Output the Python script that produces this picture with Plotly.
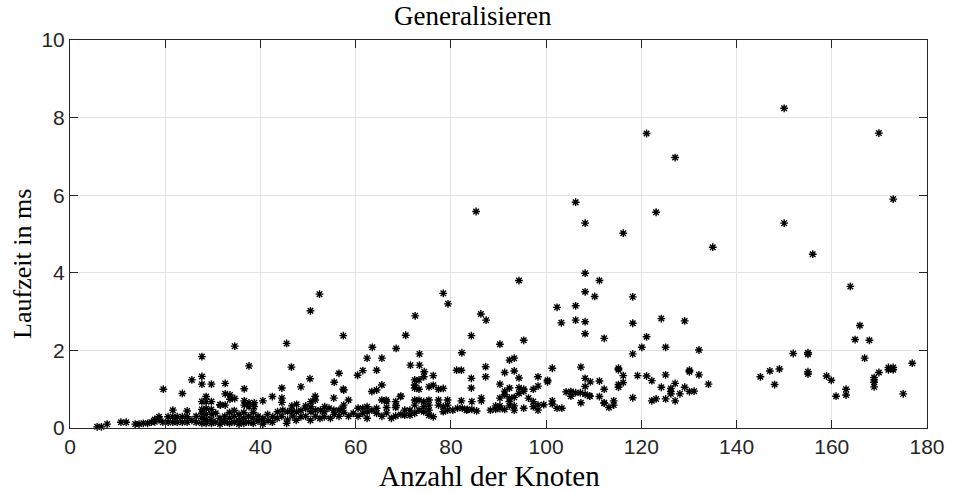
import plotly.graph_objects as go

title_text = "Generalisieren"
x_label = "Anzahl der Knoten"
y_label = "Laufzeit in ms"
x_ticks = [0, 20, 40, 60, 80, 100, 120, 140, 160, 180]
y_ticks = [0, 2, 4, 6, 8, 10]

# Region 5-30 nodes
x_a = [5.7, 6.6, 7.8, 10.7, 11.8, 13.7, 14.5, 15.4, 16.3, 17.1, 17.8, 17.8,
       18.7, 18.7, 19.6, 19.5, 20.6, 20.6, 21.6, 21.6, 21.6, 22.5, 22.5, 23.6, 23.6, 23.6,
       24.6, 24.6, 24.6, 25.6, 25.6, 26.5, 26.5, 27.7, 27.7, 27.7, 29.7, 28.6,
       27.7, 27.7, 27.7, 27.7, 27.7, 28.6, 28.6, 28.6, 28.6, 28.6, 29.7, 29.7, 29.7, 29.7, 29.7]
y_a = [0.03, 0.03, 0.10, 0.15, 0.15, 0.10, 0.10, 0.12, 0.12, 0.15, 0.16, 0.22,
       0.29, 0.21, 1.00, 0.15, 0.29, 0.15, 0.46, 0.29, 0.15, 0.29, 0.15, 0.89, 0.29, 0.15,
       0.44, 0.29, 0.15, 1.24, 0.20, 0.30, 0.15, 1.84, 1.33, 1.13, 1.13, 0.81,
       0.68, 0.48, 0.38, 0.25, 0.12, 0.68, 0.50, 0.35, 0.22, 0.12, 0.68, 0.48, 0.35, 0.22, 0.12]

# Region 30-57 nodes
x_b = [30.6, 31.5, 31.5, 32.2, 32.6, 32.6, 32.6, 33.6, 33.6, 34.6, 34.6, 31.6, 36.6, 37.6,
       36.6, 36.6, 37.6, 37.6, 38.7, 38.7, 40.5,
       30.5, 31.5, 32.5, 32.5, 33.5, 33.5, 33.5, 34.5, 34.5, 34.5, 35.5, 35.5, 35.5, 36.5, 36.5,
       36.5, 37.5, 37.5, 38.5, 38.5, 38.5, 39.5, 39.5, 40.5, 40.5,
       41.6, 42.6, 43.6, 44.7, 45.7, 45.7, 46.8, 47.6, 48.5, 49.5, 50.6, 50.6, 51.6, 52.6,
       53.4, 53.4, 54.4, 54.7, 55.4, 56.5, 57.2,
       40.5, 41.5, 42.5, 43.5, 44.5, 45.5, 46.5, 47.5, 48.5, 49.5, 50.5, 51.5, 52.5, 53.5,
       55.5, 56.5, 57.5]
y_b = [0.38, 0.60, 0.25, 0.20, 1.15, 0.88, 0.59, 0.85, 0.74, 0.76, 2.11, 0.59, 1.01, 1.60,
       0.70, 0.59, 0.65, 0.55, 0.65, 0.55, 0.70,
       0.15, 0.10, 0.30, 0.15, 0.40, 0.25, 0.12, 0.45, 0.30, 0.15, 0.35, 0.20, 0.10, 0.40, 0.25,
       0.12, 0.30, 0.15, 0.40, 0.25, 0.12, 0.30, 0.18, 0.25, 0.15,
       0.19, 0.29, 0.42, 0.46, 0.42, 0.21, 0.31, 0.42, 0.29, 0.51, 0.55, 0.42, 0.46, 0.46,
       0.42, 0.29, 0.51, 0.25, 0.46, 0.46, 0.51,
       0.10, 0.35, 0.15, 0.25, 0.30, 0.12, 0.45, 0.20, 0.45, 0.30, 0.20, 0.30, 0.25, 0.55,
       0.35, 0.30, 0.40]

# Region 40-72 nodes (upper and middle)
x_c = [57.5, 58.5, 57.5, 58.5, 59.5, 60.5, 61.5, 61.5, 62.4, 62.4, 63.4, 64.4, 64.4, 64.4,
       63.4, 65.5, 65.5, 66.5, 66.5, 66.5, 68.4, 68.4, 68.4, 69.5, 70.3, 71.4, 70.3, 71.4,
       60.4, 61.5, 62.4, 63.5, 65.5, 64.4, 68.5, 70.5, 57.4, 56.5, 55.5, 57.4, 55.4, 51.5,
       51.5, 50.6, 50.4, 48.5, 44.5, 42.5, 44.5, 44.5, 46.6, 47.6, 49.5, 45.5, 46.5, 50.5,
       52.4, 66.4, 68.5, 69.4, 60.5, 62.4, 65.5, 67.5, 69.5]
y_c = [0.98, 0.72, 0.59, 0.30, 0.38, 0.51, 0.51, 0.38, 0.55, 0.42, 0.46, 0.38, 0.51, 0.98,
       0.94, 1.11, 0.72, 0.68, 0.53, 0.39, 0.68, 0.53, 0.31, 0.82, 0.46, 0.46, 0.33, 0.33,
       1.36, 1.48, 1.80, 2.08, 1.80, 1.49, 2.05, 2.39, 2.38, 1.41, 1.18, 1.00, 0.77, 0.82,
       0.72, 0.68, 1.27, 1.06, 1.03, 0.81, 0.77, 0.66, 0.57, 0.61, 0.57, 2.18, 1.57, 3.02,
       3.45, 0.72, 0.58, 0.81, 0.30, 0.25, 0.30, 0.25, 0.35]

# Region 72-85 nodes
x_d = [72.5, 73.4, 71.5, 73.4, 74.4, 74.3, 72.4, 73.3, 72.4, 72.4, 73.3, 76.3, 75.4, 76.3,
       77.4, 78.4, 81.2, 82.2, 82.3, 82.2, 84.3, 84.3, 84.4, 84.4, 78.4, 79.4, 84.3,
       72.4, 73.3, 72.4, 74.3, 74.3, 74.3, 75.4, 75.4, 75.4, 75.4, 76.3, 77.4, 77.4, 78.4,
       78.4, 79.3, 79.3, 79.3, 80.4, 81.4, 82.4, 83.3, 83.5, 85.4, 73.3, 72.4]
y_d = [2.89, 1.91, 1.62, 1.62, 1.45, 1.32, 1.24, 1.24, 1.11, 1.03, 1.00, 1.35, 1.06, 1.10,
       1.00, 1.02, 1.49, 1.49, 1.94, 0.70, 1.28, 1.03, 0.68, 0.48, 3.47, 3.20, 2.38,
       0.72, 0.72, 0.59, 0.68, 0.55, 0.42, 0.72, 0.59, 0.46, 0.33, 0.29, 0.72, 0.59, 0.55,
       0.42, 0.72, 0.59, 0.46, 0.46, 0.51, 0.51, 0.46, 0.48, 0.44, 0.46, 0.38]

# Region 85-103 nodes
x_e = [85.3, 86.3, 87.4, 90.3, 95.3, 94.3, 87.3, 87.3, 92.3, 93.3, 91.3, 93.3, 94.3, 90.3,
       92.3, 94.3, 95.3, 94.3, 95.3, 98.3, 98.3, 97.3, 100.3, 100.3, 101.3, 86.4, 86.4, 88.3,
       89.4, 89.4, 90.3, 90.3, 91.3, 90.3, 91.3, 91.3, 92.3, 92.3, 92.3, 93.3, 93.3, 93.3,
       96.3, 97.3, 97.3, 98.3, 98.3, 95.3, 101.3, 101.3, 102.3, 103.3, 99.5]
y_e = [5.58, 2.94, 2.78, 2.16, 2.26, 3.80, 1.58, 1.32, 1.75, 1.80, 1.43, 1.47, 1.29, 1.13,
       1.03, 1.04, 1.00, 0.89, 0.95, 1.32, 1.08, 1.00, 1.23, 1.19, 1.54, 0.77, 0.70, 0.46,
       0.57, 0.48, 0.57, 0.50, 0.48, 0.77, 0.86, 0.95, 0.77, 0.68, 0.57, 0.79, 0.57, 0.46,
       0.77, 0.68, 0.55, 0.59, 0.46, 0.51, 0.70, 0.62, 0.51, 0.51, 0.60]

# Region 102-115 nodes
x_f = [106.2, 108.2, 108.2, 111.2, 108.2, 110.2, 102.3, 106.2, 103.2, 106.2, 108.2, 108.2,
       112.2, 107.3, 108.2, 109.3, 111.2, 108.2, 112.2, 104.2, 105.2, 105.2, 106.2, 107.2,
       108.2, 109.2, 107.3, 111.2, 112.2, 112.2, 113.2, 114.2, 114.2, 109.1]
y_f = [5.82, 5.28, 3.99, 3.80, 3.51, 3.39, 3.11, 3.15, 2.71, 2.78, 2.74, 2.43,
       2.31, 1.57, 1.28, 1.19, 1.21, 1.07, 1.00, 0.93, 0.94, 0.82, 0.91, 0.91,
       0.87, 0.82, 0.65, 0.81, 0.65, 0.64, 0.53, 0.70, 0.59, 0.83]

# Region 115-135 nodes
x_g = [121.1, 127.1, 123.1, 116.2, 135.0, 118.2, 118.2, 124.2, 129.1, 121.1, 118.2, 120.1,
       125.1, 132.1, 115.2, 115.2, 116.2, 119.2, 121.1, 122.2, 125.1, 130.1, 130.1, 132.1,
       134.1, 115.2, 115.2, 116.2, 118.2, 122.2, 123.1, 124.2, 125.1, 126.2, 126.2, 126.2,
       127.1, 127.1, 128.1, 129.1, 130.1, 131.1]
y_g = [7.59, 6.97, 5.56, 5.02, 4.66, 3.38, 2.70, 2.82, 2.76, 2.35, 1.91, 2.08,
       2.08, 2.01, 1.54, 1.50, 1.35, 1.35, 1.34, 1.22, 1.37, 1.49, 1.45, 1.37,
       1.13, 1.12, 1.05, 1.17, 0.78, 0.70, 0.75, 1.05, 0.75, 1.02, 0.94, 0.88,
       1.15, 0.70, 0.88, 1.05, 0.94, 0.95]

# Region 145-177 nodes
x_h = [150.0, 150.0, 145.0, 147.0, 148.0, 149.0, 151.9, 169.9, 172.9, 156.0, 163.9, 165.9,
       164.9, 167.9, 166.9, 155.0, 155.0, 155.0, 155.0, 158.9, 159.9, 160.9, 163.0, 163.0,
       169.9, 168.9, 168.9, 168.9, 168.9, 171.9, 171.9, 172.9, 172.9, 176.9, 175.0]
y_h = [8.24, 5.28, 1.32, 1.47, 1.12, 1.52, 1.92, 7.60, 5.90, 4.48, 3.65, 2.64,
       2.28, 2.26, 1.80, 1.94, 1.90, 1.45, 1.39, 1.34, 1.23, 0.82, 1.00, 0.85,
       1.43, 1.30, 1.24, 1.18, 1.06, 1.56, 1.50, 1.56, 1.50, 1.67, 0.88]

x_all = x_a + x_b + x_c + x_d + x_e + x_f + x_g + x_h
y_all = y_a + y_b + y_c + y_d + y_e + y_f + y_g + y_h

axis_col = "#262626"
grid_col = "#e3e3e3"

fig = go.Figure()
fig.add_trace(go.Scatter(
    x=x_all, y=y_all, mode="markers", cliponaxis=False,
    marker=dict(symbol="asterisk-open", size=6.5, color="black",
                line=dict(color="black", width=1.4)),
    showlegend=False,
))

axis_common = dict(
    showgrid=True, gridcolor=grid_col, gridwidth=1,
    showline=True, linecolor=axis_col, linewidth=1, mirror="ticks",
    ticks="inside", ticklen=8, tickcolor=axis_col, tickwidth=1,
    zeroline=False,
    tickfont=dict(family="Liberation Sans, Arial, sans-serif", size=21, color=axis_col),
)

fig.update_xaxes(range=[0, 180], tickvals=x_ticks, ticktext=[str(v) for v in x_ticks], **axis_common)
fig.update_yaxes(range=[0, 10], tickvals=y_ticks, ticktext=[str(v) for v in y_ticks], **axis_common)

serif = "Liberation Serif, Times New Roman, serif"
fig.update_layout(
    width=957, height=493,
    margin=dict(l=70, r=20, t=40, b=65),
    paper_bgcolor="white", plot_bgcolor="white",
    annotations=[
        dict(text=title_text, xref="paper", yref="paper", x=0.47, y=1, xanchor="center",
             yanchor="middle", yshift=24, showarrow=False,
             font=dict(family=serif, size=27, color="black")),
        dict(text=x_label, xref="paper", yref="paper", x=0.49, y=0, xanchor="center",
             yanchor="middle", yshift=-48, showarrow=False,
             font=dict(family=serif, size=29, color="black")),
        dict(text=y_label, xref="paper", yref="paper", x=0, y=0.423, xanchor="center",
             yanchor="middle", xshift=-47, textangle=-90, showarrow=False,
             font=dict(family=serif, size=26, color="black")),
    ],
)

fig.write_html("out.html")
